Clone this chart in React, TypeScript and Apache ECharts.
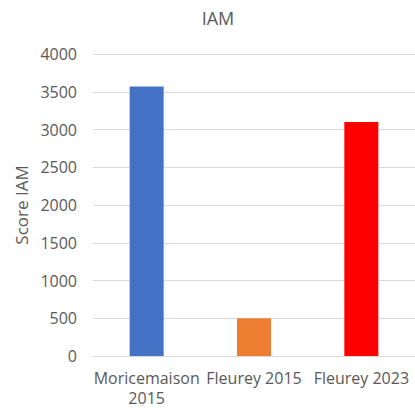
import React, { useEffect, useRef } from "react";
import * as echarts from "echarts";

const categories = ["Moricemaison\n2015", "Fleurey 2015", "Fleurey 2023"];
const values = [3570, 500, 3100];
const colors = ["#4472C4", "#ED7D31", "#FF0000"];
const yTicks = [0, 500, 1000, 1500, 2000, 2500, 3000, 3500, 4000];

const FONT = "'Open Sans', 'Noto Sans', sans-serif";

export default function App() {
  const ref = useRef<HTMLDivElement>(null);
  useEffect(() => {
    if (!ref.current) return;
    const chart = echarts.init(ref.current, null, { renderer: "svg" });
    chart.setOption({
      animation: false,
      backgroundColor: "#ffffff",
      title: {
        text: "IAM",
        left: 213,
        top: 4,
        textAlign: "center",
        textStyle: { color: "#595959", fontSize: 18, fontWeight: "normal", fontFamily: FONT },
      },
      grid: { left: 93, right: -3, top: 54, bottom: 52, containLabel: false },
      xAxis: {
        type: "category",
        data: categories,
        axisLine: { lineStyle: { color: "#D9D9D9", width: 1 } },
        axisTick: { show: false },
        axisLabel: {
          color: "#595959",
          fontSize: 16,
          fontFamily: FONT,
          margin: 12,
          lineHeight: 20,
          interval: 0,
        },
      },
      yAxis: {
        type: "value",
        min: yTicks[0],
        max: yTicks[yTicks.length - 1],
        interval: 500,
        name: "Score IAM",
        nameLocation: "middle",
        nameGap: 60,
        nameRotate: 90,
        nameTextStyle: { color: "#595959", fontSize: 17, fontFamily: FONT },
        axisLine: { show: false },
        axisTick: { show: false },
        splitLine: { lineStyle: { color: "#D9D9D9", width: 1 } },
        axisLabel: {
          color: "#595959",
          fontSize: 16,
          fontFamily: FONT,
          margin: 16,
          formatter: (v: number) => String(v),
        },
      },
      series: [
        {
          type: "bar",
          barWidth: 34,
          data: values.map((v, i) => ({ value: v, itemStyle: { color: colors[i] } })),
        },
      ],
    });
    return () => chart.dispose();
  }, []);
  return (
    <div
      ref={ref}
      style={{ position: "fixed", left: 0, top: 0, width: 415, height: 408 }}
    />
  );
}
